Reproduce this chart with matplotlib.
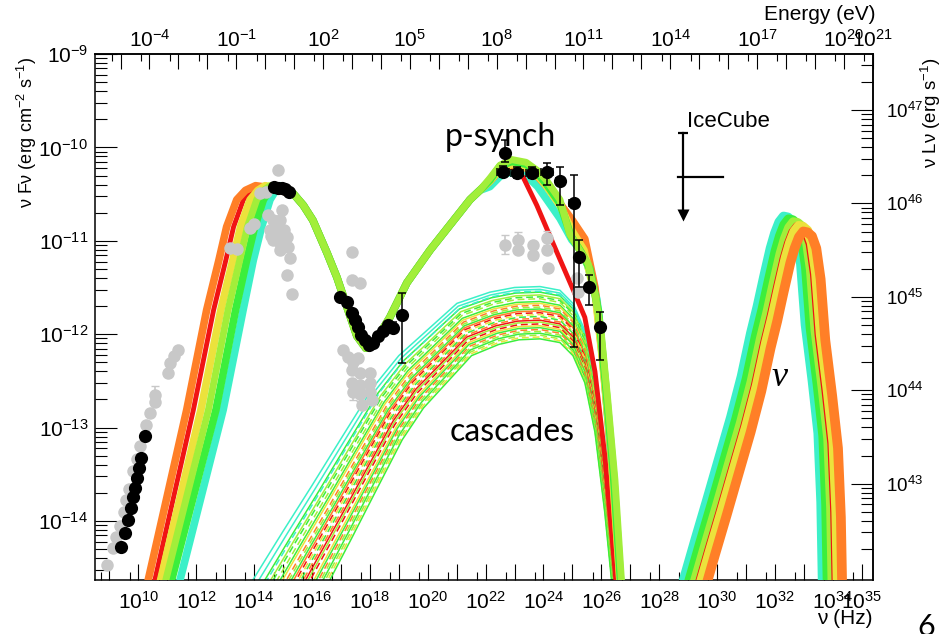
import numpy as np
import matplotlib
matplotlib.use("Agg")
import matplotlib.pyplot as plt
from matplotlib.ticker import FixedLocator, FuncFormatter, NullFormatter

plt.rcParams['font.family'] = ['Liberation Sans', 'DejaVu Sans']
plt.rcParams['mathtext.fontset'] = 'custom'
plt.rcParams['mathtext.rm'] = 'Liberation Sans'
plt.rcParams['mathtext.it'] = 'Liberation Sans:italic'
plt.rcParams['mathtext.bf'] = 'Liberation Sans:bold'

H_EV = 4.135667696e-15      # Planck constant, eV s
LOG_4PI_D2 = 56.6           # log10(4 pi d_L^2) in cm^2

ORANGE = '#ff7f27'
RED = '#f01414'
YELLOW = '#ece23c'
LGREEN = '#a2ee3a'
GREEN = '#3cee3c'
CYAN = '#3cf0c8'
GREY = '#c8c8c8'

# ---------------------------------------------------------------- data (log10)
# electron synchrotron rising branch, one list per parameter set
sync_levels = [-15.0, -14.63, -12.81, -11.74, -11.21, -10.85, -10.56, -10.46, -10.41, -10.43, -10.47]
rise_orange = [10.07, 10.34, 11.67, 12.36, 12.78, 13.05, 13.40, 13.70, 14.05, 14.50, 15.00]
rise_red    = [10.30, 10.57, 11.90, 12.60, 13.02, 13.29, 13.63, 13.92, 14.22, 14.60, 15.00]
rise_yellow = [10.50, 10.77, 12.16, 12.85, 13.26, 13.53, 13.86, 14.13, 14.38, 14.70, 15.05]
rise_lgreen = [10.68, 10.95, 12.42, 13.10, 13.50, 13.77, 14.09, 14.33, 14.55, 14.80, 15.10]
rise_green  = [10.88, 11.15, 12.68, 13.36, 13.74, 14.02, 14.32, 14.53, 14.72, 14.90, 15.15]
rise_cyan   = [11.17, 11.44, 12.93, 13.62, 13.97, 14.26, 14.55, 14.75, 14.90, 15.05, 15.20]

# common part: synchrotron fall, valley, proton-synchrotron rise
mid_nu = [15.34, 15.70, 16.03, 16.52, 16.86, 17.21, 17.55, 17.86, 18.24, 18.69, 19.28, 20.08, 20.77, 21.46, 21.80]
mid_f  = [-10.49, -10.62, -10.78, -11.13, -11.39, -11.71, -12.02, -12.15, -12.05, -11.82, -11.45, -11.10, -10.83, -10.56, -10.46]

# proton-synchrotron peak and high-energy tail
tail_orange_nu = [22.15, 22.5, 22.9, 23.4, 23.8, 24.12, 24.57, 25.02, 25.43, 25.78, 26.05, 26.33, 26.70]
tail_orange_f  = [-10.36, -10.24, -10.19, -10.22, -10.31, -10.42, -10.60, -10.79, -10.98, -11.50, -12.28, -13.24, -14.90]
tail_red_nu = [22.15, 22.5, 22.9, 23.3, 23.77, 24.46, 25.02, 25.43, 25.78, 26.12, 26.58]
tail_red_f  = [-10.37, -10.25, -10.21, -10.32, -10.62, -11.12, -11.52, -11.82, -12.40, -13.30, -14.90]
tail_yellow_nu = [22.15, 22.5, 22.9, 23.4, 23.8, 24.12, 24.57, 25.0, 25.4, 25.8, 26.05, 26.35, 26.70]
tail_yellow_f  = [-10.36, -10.23, -10.18, -10.21, -10.30, -10.42, -10.62, -10.90, -11.10, -11.60, -12.30, -13.30, -14.90]
tail_lgreen_nu = [22.15, 22.5, 22.9, 23.4, 23.8, 24.12, 24.57, 24.91, 25.25, 25.55, 25.8, 26.0, 26.22, 26.47, 26.75]
tail_lgreen_f  = [-10.33, -10.19, -10.13, -10.16, -10.25, -10.36, -10.56, -10.93, -11.10, -11.25, -11.60, -12.00, -12.70, -13.56, -14.90]
tail_green_nu = [22.15, 22.5, 22.9, 23.4, 23.8, 24.12, 24.57, 24.95, 25.3, 25.6, 25.9, 26.15, 26.42, 26.72]
tail_green_f  = [-10.35, -10.20, -10.15, -10.18, -10.28, -10.40, -10.60, -10.95, -11.12, -11.30, -11.75, -12.55, -13.50, -14.90]
tail_cyan_nu = [22.15, 22.5, 22.8, 23.4, 23.8, 24.12, 24.57, 24.98, 25.43, 25.85, 26.12, 26.36, 26.65]
tail_cyan_f  = [-10.42, -10.31, -10.27, -10.30, -10.42, -10.56, -10.76, -10.99, -11.15, -11.63, -12.49, -13.45, -14.90]

# cascade emission: reference curve plus per-curve offsets
casc_nu = [13.40, 13.96, 15.0, 16.0, 17.0, 18.11, 19.0, 19.97, 21.01, 22.15, 23.0, 23.88,
           24.57, 25.02, 25.43, 25.78, 26.12, 26.36, 26.54, 26.65]
casc_f = [-14.92, -14.63, -14.11, -13.62, -13.12, -12.57, -12.23, -11.96, -11.67, -11.55, -11.50, -11.49,
          -11.53, -11.67, -11.96, -12.49, -13.35, -14.10, -14.63, -14.95]
CASC_PIVOT = 23.88
casc_dy = [0.00, -0.03, -0.06, -0.05, -0.09, -0.11, -0.13, -0.16, -0.18, -0.20, -0.22, -0.24, -0.26, -0.28,
           -0.30, -0.32, -0.34, -0.36, -0.38, -0.40, -0.42, -0.44, -0.46, -0.48, -0.50, -0.52, -0.54, -0.56]
casc_stretch = [1.00, 0.985, 0.97, 0.96, 0.955, 0.95, 0.94, 0.935, 0.93, 0.92, 0.915, 0.91, 0.905, 0.90,
                0.895, 0.89, 0.885, 0.88, 0.875, 0.87, 0.86, 0.855, 0.85, 0.845, 0.84, 0.835, 0.83, 0.825]
casc_color = [CYAN, CYAN, GREEN, CYAN, LGREEN, GREEN, LGREEN, GREEN, YELLOW, ORANGE, LGREEN, GREEN, ORANGE, RED,
              YELLOW, GREEN, ORANGE, RED, LGREEN, RED, YELLOW, GREEN, ORANGE, LGREEN, GREEN, LGREEN, YELLOW, GREEN]
casc_dashed = [0, 0, 0, 1, 0, 1, 1, 0, 0, 1, 1, 0, 0, 1,
               1, 1, 1, 0, 0, 1, 0, 0, 1, 1, 0, 1, 1, 0]

# neutrino bump: reference curve plus per-set shifts
nu_nu = [28.55, 28.85, 29.25, 29.65, 30.05, 30.48, 30.85, 31.17, 31.40, 31.62, 31.85, 32.00, 32.15, 32.30,
         32.45, 32.60, 32.75, 32.90, 33.06, 33.30, 33.50, 33.60, 33.65, 33.70]
nu_f = [-14.95, -14.63, -14.20, -13.78, -13.35, -12.89, -12.45, -11.99, -11.70, -11.39, -11.08, -10.92, -10.80,
        -10.74, -10.75, -10.79, -10.92, -11.25, -11.90, -12.50, -13.06, -13.80, -14.63, -14.95]
nu_shift_nu = [0.00, 0.17, 0.34, 0.48, 0.52, 0.68]
nu_shift_f = [0.00, -0.03, -0.06, -0.11, -0.10, -0.16]
nu_colors = [CYAN, GREEN, LGREEN, RED, YELLOW, ORANGE]

# archival data (grey)
grey_nu = [8.91, 9.12, 9.23, 9.36, 9.50, 9.57, 9.67, 9.81, 9.95, 10.05, 10.26, 10.40, 10.57, 10.57, 11.02, 11.09,
           11.23, 11.37,
           14.82, 14.20, 14.41, 13.86, 13.99, 13.16, 13.41, 14.65, 14.89, 14.55, 14.79, 15.03, 15.13, 14.65, 14.89,
           15.17, 15.24, 15.13, 15.31, 14.48, 14.96, 14.60, 14.75, 15.00, 14.90, 15.05,
           17.38, 17.38, 17.66, 17.07, 17.24, 17.42, 17.59, 17.38, 17.66, 18.00, 17.38, 17.66, 18.00, 17.42,
           17.66, 18.00, 18.07, 17.73,
           22.67, 23.12, 23.12, 23.63, 23.63, 24.12, 24.12, 24.15, 25.16, 25.19]
grey_f = [-14.47, -14.29, -14.17, -14.05, -13.90, -13.78, -13.66, -13.46, -13.34, -13.20, -12.97, -12.84, -12.65,
          -12.73, -12.42, -12.31, -12.23, -12.17,
          -10.24, -10.49, -10.48, -10.86, -10.82, -11.08, -11.09, -10.78, -10.78, -10.88, -10.85, -10.88, -10.96,
          -10.99, -11.02, -11.07, -11.18, -11.37, -11.57, -10.72, -10.67, -10.95, -10.92, -10.92, -11.10, -11.05,
          -11.12, -11.42, -11.45, -12.17, -12.24, -12.30, -12.25, -12.38, -12.42, -12.42, -12.52, -12.54, -12.52,
          -12.62, -12.64, -12.62, -12.70, -12.76,
          -11.04, -10.99, -11.10, -11.04, -11.15, -10.97, -11.10, -11.29, -11.40, -11.55]
grey_err_nu = [17.42, 17.66, 18.00, 10.57, 22.67, 23.12, 24.12]
grey_err_f = [-12.62, -12.64, -12.62, -12.65, -11.04, -10.99, -10.97]
grey_err = [0.08, 0.08, 0.08, 0.09, 0.10, 0.08, 0.08]

# simultaneous data (black)
radio_nu = [9.40, 9.54, 9.64, 9.74, 9.81, 9.88, 9.95, 10.02, 10.09, 10.23]
radio_f = [-14.28, -14.13, -13.99, -13.86, -13.74, -13.65, -13.54, -13.43, -13.33, -13.09]
opt_nu = [14.70, 14.82, 14.95, 15.08, 15.20]
opt_f = [-10.42, -10.43, -10.44, -10.45, -10.48]
xray_nu = [16.97, 17.21, 17.38, 17.48, 17.59, 17.69, 17.83, 17.97, 18.11, 18.28, 18.45, 18.62]
xray_f = [-11.60, -11.66, -11.77, -11.85, -11.92, -12.01, -12.06, -12.12, -12.09, -12.02, -11.97, -11.90]
xerr_nu = [18.80, 19.11]
xerr_f = [-11.93, -11.79]
xerr_hi = [-11.87, -11.56]
xerr_lo = [-11.99, -12.31]
gam_nu = [22.67, 22.60, 23.08, 23.60, 24.12, 24.57, 25.05, 25.22, 25.57, 25.95]
gam_f = [-10.06, -10.26, -10.27, -10.27, -10.26, -10.36, -10.60, -11.17, -11.49, -11.92]
gam_hi = [-9.92, -10.20, -10.21, -10.21, -10.17, -10.21, -10.30, -10.99, -11.37, -11.76]
gam_lo = [-10.16, -10.32, -10.33, -10.33, -10.40, -10.62, -12.14, -11.49, -11.69, -12.28]
gam_dnu = [0.0, 0.2, 0.2, 0.2, 0.2, 0.15, 0.15, 0.1, 0.1, 0.1]

# IceCube neutrino flux upper limit
ic_nu = 28.82
ic_f_top = -9.85
ic_f_arrow = -10.72
ic_f_mid = -10.32
ic_nu_range = [28.65, 30.21]


def P(v):
    return 10.0 ** np.asarray(v, dtype=float)


W, H = 943, 634
fig = plt.figure(figsize=(W / 100, H / 100), dpi=100)
fig.patch.set_facecolor('white')
ax = fig.add_axes([95 / W, 1 - 580 / H, (873 - 95) / W, (580 - 54) / H])
ax.set_xscale('log')
ax.set_yscale('log')
ax.set_xlim(10 ** 8.5, 10 ** 35.39)
ax.set_ylim(10 ** -14.632, 1e-9)

# cascades
cn = np.array(casc_nu)
cf = np.array(casc_f)
for dy, s, c, dash in zip(casc_dy, casc_stretch, casc_color, casc_dashed):
    xs = np.where(cn < CASC_PIVOT, CASC_PIVOT + (cn - CASC_PIVOT) * s, cn)
    ax.plot(P(xs), P(cf + dy), color=c, lw=1.1,
            ls=(0, (4.5, 2.5)) if dash else '-', zorder=2)

# photon SED models (electron synchrotron + proton synchrotron)
bands = [
    (rise_cyan, tail_cyan_nu, tail_cyan_f, CYAN, 5.5),
    (rise_red, tail_red_nu, tail_red_f, RED, 3.5),
    (rise_orange, tail_orange_nu, tail_orange_f, ORANGE, 5.5),
    (rise_yellow, tail_yellow_nu, tail_yellow_f, YELLOW, 5.5),
    (rise_green, tail_green_nu, tail_green_f, GREEN, 5.5),
    (rise_lgreen, tail_lgreen_nu, tail_lgreen_f, LGREEN, 5.0),
]
for rise, tnu, tf, c, lw in bands:
    xs = list(rise) + mid_nu + list(tnu)
    ys = sync_levels + mid_f + list(tf)
    ax.plot(P(xs), P(ys), color=c, lw=lw, solid_capstyle='butt',
            solid_joinstyle='round', zorder=3)

# neutrino spectra
for dxs, dys, c in zip(nu_shift_nu, nu_shift_f, nu_colors):
    ax.plot(P(np.array(nu_nu) + dxs), P(np.array(nu_f) + dys), color=c, lw=7,
            solid_capstyle='butt', solid_joinstyle='round', zorder=3)

# archival points
ax.errorbar(P(grey_err_nu), P(grey_err_f),
            yerr=[P(grey_err_f) - P(np.array(grey_err_f) - grey_err),
                  P(np.array(grey_err_f) + grey_err) - P(grey_err_f)],
            fmt='none', ecolor=GREY, elinewidth=1.2, capsize=3, zorder=4)
ax.plot(P(grey_nu), P(grey_f), 'o', color=GREY, ms=9, mec='none', zorder=4)

# simultaneous points
BK = dict(fmt='o', color='black', ms=9.5, mec='none', ecolor='black',
          elinewidth=1.1, capsize=3, capthick=1.1, zorder=6)
ax.plot(P(radio_nu), P(radio_f), 'o', color='black', ms=9.5, mec='none', zorder=6)
ax.plot(P(opt_nu), P(opt_f), 'o', color='black', ms=9.5, mec='none', zorder=6)
ax.plot(P(xray_nu), P(xray_f), 'o', color='black', ms=9.5, mec='none', zorder=6)
ax.errorbar(P(xerr_nu), P(xerr_f),
            yerr=[P(xerr_f) - P(xerr_lo), P(xerr_hi) - P(xerr_f)], **BK)
gn = np.array(gam_nu)
gd = np.array(gam_dnu)
ax.errorbar(P(gn), P(gam_f),
            xerr=[P(gn) - P(gn - gd), P(gn + gd) - P(gn)],
            yerr=[P(gam_f) - P(gam_lo), P(gam_hi) - P(gam_f)], **BK)

# IceCube upper limit
ax.plot(P([ic_nu, ic_nu]), P([ic_f_top, ic_f_arrow + 0.05]), color='black', lw=1.6, zorder=7)
ax.plot(P([ic_nu]), P([ic_f_top]), marker='_', color='black', ms=7, mew=1.6, zorder=7)
ax.plot(P([ic_nu]), P([ic_f_arrow]), marker='v', color='black', ms=8, mec='none', zorder=7)
ax.plot(P(ic_nu_range), P([ic_f_mid, ic_f_mid]), color='black', lw=1.6, zorder=7)

# ------------------------------------------------------------------ axes
def pow_fmt(shown):
    def fmt(v, pos):
        k = int(round(np.log10(v)))
        return r'$\mathregular{10^{%d}}$' % k if k in shown else ''
    return FuncFormatter(fmt)


TICK_FS = 15
for sp in ax.spines.values():
    sp.set_linewidth(1.1)

ax.xaxis.set_major_locator(FixedLocator([10.0 ** k for k in range(9, 36)]))
ax.xaxis.set_minor_locator(FixedLocator([5 * 10.0 ** k for k in range(8, 35)]))
ax.xaxis.set_major_formatter(pow_fmt(set(range(10, 35, 2)) | {35}))
ax.xaxis.set_minor_formatter(NullFormatter())
ax.yaxis.set_major_locator(FixedLocator([10.0 ** k for k in range(-14, -8)]))
ax.yaxis.set_minor_locator(FixedLocator([m * 10.0 ** k for k in range(-15, -9) for m in range(2, 10)]))
ax.yaxis.set_major_formatter(pow_fmt(set(range(-14, -8))))
ax.yaxis.set_minor_formatter(NullFormatter())
ax.tick_params(axis='x', which='major', direction='in', length=11.5, width=0.8,
               labelsize=TICK_FS, pad=8, top=False)
ax.tick_params(axis='x', which='minor', direction='in', length=6, width=0.8, top=False)
ax.tick_params(axis='y', which='major', direction='in', length=16, width=0.8,
               labelsize=TICK_FS, pad=5, right=False)
ax.tick_params(axis='y', which='minor', direction='in', length=8.5, width=0.8, right=False)

top = ax.secondary_xaxis('top', functions=(lambda v: v * H_EV, lambda e: e / H_EV))
top.xaxis.set_major_locator(FixedLocator([10.0 ** k for k in range(-5, 22)]))
top.xaxis.set_minor_locator(FixedLocator([5 * 10.0 ** k for k in range(-6, 21)]))
top.xaxis.set_major_formatter(pow_fmt({-4, -1, 2, 5, 8, 11, 14, 17, 20, 21}))
top.xaxis.set_minor_formatter(NullFormatter())
top.tick_params(which='major', direction='in', length=11, width=0.8, labelsize=TICK_FS, pad=2)
top.tick_params(which='minor', direction='in', length=5, width=0.8)
top.spines['top'].set_linewidth(1.1)

right = ax.secondary_yaxis('right', functions=(lambda f: f * 10 ** LOG_4PI_D2,
                                                lambda L: L / 10 ** LOG_4PI_D2))
right.yaxis.set_major_locator(FixedLocator([10.0 ** k for k in range(43, 48)]))
right.yaxis.set_minor_locator(FixedLocator([m * 10.0 ** k for k in range(41, 48) for m in range(2, 10)]))
right.yaxis.set_major_formatter(pow_fmt(set(range(43, 48))))
right.yaxis.set_minor_formatter(NullFormatter())
right.tick_params(which='major', direction='in', length=16, width=0.8, labelsize=13.5, pad=9)
right.tick_params(which='minor', direction='in', length=9, width=0.8)
right.spines['right'].set_linewidth(1.1)


def fx(px):
    return px / W


def fy(py):
    return 1 - py / H


fig.text(fx(27), fy(57), r'ν Fν (erg cm$^{-2}$ s$^{-1}$)', rotation=90,
         ha='center', va='top', fontsize=13)
fig.text(fx(931), fy(58), r'ν Lν (erg s$^{-1}$)', rotation=90,
         ha='center', va='top', fontsize=13.5)
fig.text(fx(875), fy(15), 'Energy (eV)', ha='right', va='center', fontsize=15)
fig.text(fx(873), fy(619), 'ν (Hz)', ha='right', va='center', fontsize=15)

fig.text(fx(500), fy(146), 'p-synch', ha='center', va='baseline', fontsize=23,
         family=['Lato', 'DejaVu Sans'])
fig.text(fx(450), fy(441), 'cascades', ha='left', va='baseline', fontsize=23,
         family=['Lato', 'DejaVu Sans'])
fig.text(fx(687), fy(127), 'IceCube', ha='left', va='baseline', fontsize=16)
fig.text(fx(780), fy(378), 'ν', ha='center', va='center', fontsize=26,
         family=['Liberation Serif', 'DejaVu Serif'], style='italic')
fig.text(fx(917), fy(613), '6', ha='left', va='top', fontsize=22,
         family=['Lato', 'DejaVu Sans'])

fig.savefig('out.png', dpi=100, facecolor='white')
